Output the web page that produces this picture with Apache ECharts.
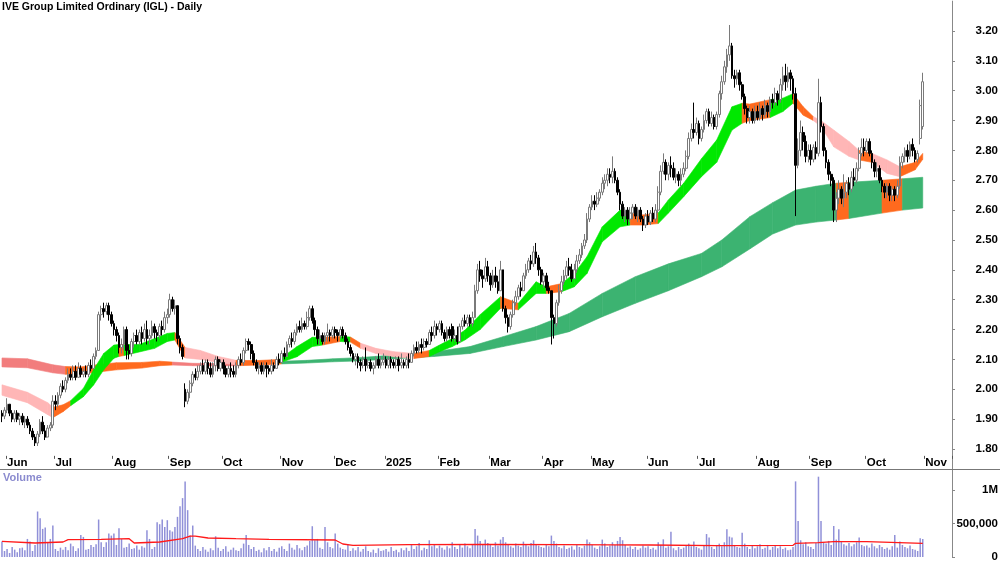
<!DOCTYPE html>
<html>
<head>
<meta charset="utf-8">
<title>IGL - Daily</title>
<script src="https://cdn.jsdelivr.net/npm/echarts@6/dist/echarts.min.js"></script>
<style>
  html, body { margin: 0; padding: 0; background: #fff; }
  #chart { width: 1000px; height: 562px; }
</style>
</head>
<body>
<div id="chart"></div>
<script>
// trading calendar
const firstDay = '2024-05-30';
const holidays = ['2024-06-10', '2024-12-25', '2024-12-26', '2025-01-01', '2025-01-27',
  '2025-04-18', '2025-04-21', '2025-04-25', '2025-06-09'];
const monthNames = ['Jan', 'Feb', 'Mar', 'Apr', 'May', 'Jun', 'Jul', 'Aug', 'Sep', 'Oct', 'Nov', 'Dec'];
const priceTicks = [1.8, 1.9, 2.0, 2.1, 2.2, 2.3, 2.4, 2.5, 2.6, 2.7, 2.8, 2.9, 3.0, 3.1, 3.2];
const volumeTicks = [0, 500, 1000];

// daily bars: [open, close, low, high]
const candles = [
  // May/Jun 2024
  [1.92,1.91,1.89,1.93],[1.91,1.93,1.90,1.94],[1.93,1.95,1.92,1.97],[1.95,1.92,1.91,1.95],[1.92,1.90,1.89,1.93],
  [1.90,1.92,1.89,1.93],[1.92,1.90,1.89,1.93],[1.90,1.91,1.88,1.92],[1.91,1.89,1.88,1.92],[1.89,1.90,1.87,1.91],
  [1.90,1.88,1.87,1.91],[1.88,1.86,1.85,1.89],[1.86,1.84,1.83,1.87],[1.84,1.82,1.81,1.85],[1.82,1.85,1.81,1.86],
  [1.85,1.89,1.84,1.90],[1.89,1.86,1.85,1.91],[1.86,1.84,1.83,1.88],[1.84,1.87,1.84,1.88],[1.87,1.88,1.86,1.89],
  [1.88,1.96,1.87,1.98],
  // Jul
  [1.96,1.95,1.93,1.98],[1.95,1.98,1.94,1.99],[1.98,2.01,1.97,2.02],[2.01,2.00,1.99,2.03],[2.00,2.03,1.99,2.04],
  [2.03,2.05,2.02,2.07],[2.05,2.04,2.03,2.07],[2.04,2.06,2.03,2.08],[2.06,2.04,2.03,2.08],[2.04,2.07,2.04,2.09],
  [2.07,2.05,2.04,2.08],[2.05,2.06,2.04,2.07],[2.06,2.05,2.04,2.08],[2.05,2.08,2.04,2.09],[2.08,2.07,2.06,2.10],
  [2.07,2.11,2.07,2.12],[2.11,2.13,2.10,2.14],[2.13,2.25,2.13,2.26],[2.25,2.27,2.23,2.28],[2.27,2.26,2.24,2.29],
  [2.26,2.28,2.25,2.29],[2.28,2.25,2.23,2.29],[2.25,2.22,2.21,2.26],
  // Aug
  [2.22,2.20,2.18,2.23],[2.20,2.18,2.16,2.21],[2.18,2.14,2.12,2.19],[2.14,2.15,2.12,2.17],[2.15,2.20,2.13,2.21],
  [2.20,2.13,2.10,2.21],[2.13,2.12,2.10,2.15],[2.12,2.16,2.11,2.17],[2.16,2.18,2.14,2.19],[2.18,2.16,2.15,2.20],
  [2.16,2.19,2.15,2.20],[2.19,2.17,2.15,2.21],[2.17,2.20,2.16,2.22],[2.20,2.17,2.15,2.23],[2.17,2.18,2.15,2.20],
  [2.18,2.21,2.17,2.23],[2.21,2.19,2.17,2.22],[2.19,2.18,2.16,2.20],[2.18,2.21,2.17,2.22],[2.21,2.20,2.18,2.23],
  [2.20,2.24,2.19,2.26],[2.24,2.25,2.22,2.27],
  // Sep
  [2.25,2.30,2.24,2.32],[2.30,2.27,2.26,2.31],[2.27,2.28,2.25,2.30],[2.28,2.17,2.15,2.28],[2.17,2.14,2.12,2.18],
  [2.14,2.11,2.10,2.15],[2.00,1.96,1.94,2.02],[1.96,1.99,1.95,2.00],[1.99,2.02,1.97,2.03],[2.02,2.05,2.01,2.06],
  [2.05,2.04,2.03,2.07],[2.04,2.06,2.03,2.08],[2.06,2.08,2.05,2.09],[2.08,2.06,2.05,2.10],[2.06,2.09,2.05,2.10],
  [2.09,2.07,2.05,2.10],[2.07,2.05,2.04,2.09],[2.05,2.08,2.04,2.09],[2.08,2.10,2.06,2.11],[2.10,2.07,2.06,2.11],
  [2.07,2.09,2.06,2.10],
  // Oct
  [2.09,2.07,2.05,2.10],[2.07,2.05,2.04,2.08],[2.05,2.07,2.04,2.08],[2.07,2.06,2.04,2.09],[2.06,2.05,2.04,2.08],
  [2.05,2.08,2.04,2.09],[2.08,2.10,2.07,2.11],[2.10,2.09,2.08,2.12],[2.09,2.13,2.08,2.14],[2.13,2.16,2.12,2.17],
  [2.16,2.15,2.13,2.17],[2.15,2.12,2.10,2.16],[2.12,2.09,2.08,2.13],[2.09,2.07,2.06,2.10],[2.07,2.08,2.05,2.09],
  [2.08,2.06,2.05,2.09],[2.06,2.08,2.05,2.09],[2.08,2.07,2.04,2.09],[2.07,2.06,2.05,2.08],[2.06,2.08,2.05,2.10],
  [2.08,2.07,2.06,2.09],[2.07,2.10,2.07,2.11],[2.10,2.09,2.08,2.12],
  // Nov
  [2.09,2.12,2.09,2.13],[2.12,2.11,2.10,2.14],[2.11,2.15,2.11,2.16],[2.15,2.17,2.14,2.18],[2.17,2.16,2.14,2.19],
  [2.16,2.19,2.15,2.20],[2.19,2.21,2.18,2.22],[2.21,2.20,2.19,2.23],[2.20,2.22,2.19,2.24],[2.22,2.21,2.20,2.23],
  [2.21,2.24,2.20,2.26],[2.24,2.27,2.23,2.28],[2.27,2.23,2.22,2.28],[2.23,2.20,2.18,2.24],[2.20,2.17,2.15,2.21],
  [2.17,2.18,2.15,2.20],[2.18,2.16,2.15,2.19],[2.16,2.18,2.15,2.19],[2.18,2.19,2.16,2.22],[2.19,2.18,2.16,2.20],
  [2.18,2.20,2.17,2.21],
  // Dec
  [2.20,2.19,2.17,2.21],[2.19,2.18,2.16,2.20],[2.18,2.20,2.17,2.21],[2.20,2.18,2.17,2.21],[2.18,2.16,2.15,2.19],
  [2.16,2.14,2.13,2.17],[2.14,2.12,2.11,2.15],[2.12,2.10,2.09,2.13],[2.10,2.11,2.08,2.12],[2.11,2.09,2.07,2.12],
  [2.09,2.08,2.06,2.10],[2.08,2.10,2.07,2.11],[2.10,2.08,2.06,2.14],[2.08,2.09,2.07,2.10],[2.09,2.07,2.06,2.10],
  [2.07,2.08,2.05,2.09],[2.08,2.10,2.07,2.11],[2.10,2.08,2.07,2.12],[2.08,2.09,2.07,2.11],[2.09,2.10,2.08,2.12],
  // Jan 2025
  [2.10,2.08,2.07,2.11],[2.08,2.10,2.07,2.11],[2.10,2.09,2.07,2.11],[2.09,2.08,2.07,2.10],[2.08,2.10,2.07,2.11],
  [2.10,2.08,2.06,2.11],[2.08,2.09,2.07,2.12],[2.09,2.08,2.07,2.10],[2.08,2.10,2.07,2.11],[2.10,2.09,2.07,2.12],
  [2.09,2.12,2.09,2.13],[2.12,2.14,2.11,2.15],[2.14,2.13,2.12,2.16],[2.13,2.15,2.12,2.16],[2.15,2.14,2.12,2.17],
  [2.14,2.16,2.13,2.17],[2.16,2.15,2.14,2.17],[2.15,2.19,2.15,2.20],[2.19,2.18,2.16,2.21],[2.18,2.21,2.17,2.23],
  [2.21,2.20,2.18,2.22],
  // Feb
  [2.20,2.22,2.19,2.23],[2.22,2.19,2.18,2.23],[2.19,2.17,2.16,2.20],[2.17,2.20,2.16,2.21],[2.20,2.18,2.17,2.21],
  [2.21,2.17,2.16,2.22],[2.17,2.18,2.16,2.20],[2.18,2.16,2.15,2.21],[2.16,2.21,2.16,2.22],[2.21,2.23,2.20,2.24],
  [2.23,2.22,2.21,2.25],[2.22,2.24,2.21,2.25],[2.24,2.22,2.21,2.25],[2.22,2.24,2.21,2.26],[2.24,2.33,2.24,2.35],
  [2.33,2.40,2.32,2.42],[2.40,2.38,2.36,2.43],[2.38,2.37,2.34,2.40],[2.37,2.41,2.36,2.44],[2.41,2.38,2.36,2.43],
  // Mar
  [2.38,2.35,2.33,2.39],[2.35,2.38,2.34,2.40],[2.38,2.36,2.34,2.41],[2.36,2.33,2.32,2.38],[2.33,2.40,2.33,2.43],
  [2.40,2.27,2.26,2.40],[2.27,2.24,2.22,2.28],[2.24,2.21,2.19,2.25],[2.21,2.25,2.20,2.26],[2.25,2.29,2.24,2.30],
  [2.29,2.31,2.28,2.33],[2.31,2.34,2.30,2.35],[2.34,2.33,2.31,2.36],[2.33,2.38,2.33,2.39],[2.38,2.40,2.37,2.42],
  [2.40,2.43,2.39,2.44],[2.43,2.42,2.40,2.45],[2.42,2.46,2.41,2.48],[2.46,2.44,2.42,2.49],[2.44,2.40,2.38,2.45],
  [2.40,2.36,2.35,2.41],
  // Apr
  [2.36,2.38,2.34,2.39],[2.38,2.34,2.33,2.39],[2.34,2.33,2.32,2.36],[2.33,2.24,2.15,2.33],[2.24,2.22,2.17,2.25],
  [2.22,2.29,2.21,2.30],[2.29,2.33,2.28,2.35],[2.33,2.36,2.32,2.38],[2.36,2.38,2.35,2.40],[2.38,2.41,2.37,2.43],
  [2.41,2.40,2.38,2.44],[2.40,2.37,2.36,2.42],[2.37,2.40,2.37,2.42],[2.40,2.43,2.39,2.45],[2.43,2.45,2.42,2.47],
  [2.45,2.48,2.44,2.49],[2.48,2.50,2.47,2.52],[2.50,2.57,2.49,2.59],[2.57,2.61,2.56,2.62],
  // May
  [2.61,2.63,2.60,2.65],[2.63,2.62,2.60,2.65],[2.62,2.64,2.61,2.66],[2.64,2.66,2.63,2.67],[2.66,2.69,2.65,2.71],
  [2.69,2.70,2.67,2.72],[2.70,2.72,2.68,2.74],[2.72,2.71,2.69,2.74],[2.71,2.73,2.69,2.78],[2.73,2.70,2.69,2.74],
  [2.70,2.66,2.65,2.71],[2.66,2.62,2.60,2.67],[2.62,2.58,2.57,2.63],[2.58,2.60,2.56,2.61],[2.60,2.57,2.55,2.61],
  [2.57,2.59,2.56,2.61],[2.59,2.61,2.57,2.62],[2.61,2.58,2.57,2.62],[2.58,2.60,2.56,2.61],[2.60,2.57,2.56,2.61],
  [2.57,2.55,2.53,2.58],[2.55,2.58,2.54,2.59],
  // Jun
  [2.58,2.56,2.55,2.60],[2.56,2.59,2.55,2.60],[2.59,2.57,2.56,2.61],[2.57,2.60,2.56,2.62],[2.60,2.66,2.59,2.68],
  [2.66,2.73,2.65,2.75],[2.73,2.76,2.72,2.79],[2.76,2.72,2.70,2.77],[2.72,2.75,2.70,2.76],[2.75,2.74,2.71,2.78],
  [2.74,2.71,2.70,2.76],[2.71,2.72,2.69,2.74],[2.72,2.70,2.68,2.73],[2.70,2.72,2.68,2.74],[2.72,2.74,2.71,2.76],
  [2.74,2.78,2.73,2.80],[2.78,2.84,2.77,2.86],[2.84,2.87,2.83,2.89],[2.87,2.86,2.84,2.96],[2.86,2.89,2.85,2.91],
  // Jul
  [2.89,2.84,2.82,2.90],[2.84,2.87,2.83,2.88],[2.87,2.90,2.86,2.92],[2.90,2.93,2.89,2.94],[2.93,2.89,2.88,2.94],
  [2.89,2.91,2.88,2.93],[2.91,2.88,2.87,2.92],[2.88,2.92,2.87,2.93],[2.92,2.99,2.91,3.00],[2.99,3.03,2.97,3.05],
  [3.03,3.08,3.02,3.10],[3.08,3.12,3.06,3.14],[3.12,3.15,3.10,3.22],[3.15,3.05,3.04,3.16],[3.05,3.04,3.01,3.07],
  [3.04,3.06,3.02,3.07],[3.06,3.02,3.00,3.07],[3.02,2.98,2.97,3.03],[2.98,2.94,2.92,2.99],[2.94,2.91,2.89,2.95],
  [2.91,2.93,2.89,2.95],[2.93,2.90,2.89,2.94],[2.90,2.93,2.89,2.95],
  // Aug
  [2.93,2.91,2.90,2.95],[2.91,2.94,2.90,2.96],[2.94,2.92,2.90,2.95],[2.92,2.95,2.91,2.97],[2.95,2.93,2.91,2.96],
  [2.93,2.97,2.92,2.98],[2.97,2.96,2.94,2.99],[2.96,2.99,2.95,3.01],[2.99,2.97,2.95,3.00],[2.97,3.02,2.96,3.04],
  [3.02,3.05,3.00,3.08],[3.05,3.03,3.00,3.09],[3.03,3.06,3.01,3.08],[3.06,3.04,3.00,3.07],[3.04,2.99,2.97,3.05],
  [2.99,2.75,2.58,3.01],[2.75,2.80,2.74,2.84],[2.80,2.86,2.78,2.90],[2.86,2.83,2.80,2.88],[2.83,2.78,2.76,2.85],
  [2.78,2.80,2.76,2.82],
  // Sep
  [2.80,2.77,2.75,2.82],[2.77,2.81,2.76,2.82],[2.81,2.79,2.77,2.83],[2.79,2.96,2.78,3.04],[2.96,2.88,2.86,2.98],
  [2.88,2.80,2.78,2.89],[2.80,2.76,2.74,2.81],[2.76,2.72,2.70,2.77],[2.72,2.70,2.68,2.73],[2.70,2.60,2.56,2.71],
  [2.60,2.64,2.56,2.66],[2.64,2.67,2.62,2.70],[2.67,2.64,2.62,2.68],[2.64,2.66,2.61,2.72],[2.66,2.69,2.64,2.70],
  [2.69,2.67,2.65,2.71],[2.67,2.71,2.66,2.73],[2.71,2.70,2.68,2.74],[2.70,2.74,2.69,2.76],[2.74,2.79,2.73,2.81],
  [2.79,2.81,2.78,2.84],[2.81,2.80,2.78,2.84],
  // Oct
  [2.80,2.83,2.79,2.84],[2.83,2.79,2.78,2.84],[2.79,2.76,2.74,2.80],[2.76,2.73,2.71,2.77],[2.73,2.74,2.71,2.76],
  [2.74,2.70,2.69,2.75],[2.70,2.68,2.66,2.71],[2.68,2.66,2.64,2.69],[2.66,2.68,2.64,2.69],[2.68,2.65,2.63,2.69],
  [2.65,2.67,2.63,2.68],[2.67,2.65,2.63,2.68],[2.65,2.68,2.64,2.70],[2.68,2.76,2.67,2.78],[2.76,2.78,2.74,2.79],
  [2.78,2.80,2.76,2.81],[2.80,2.78,2.76,2.82],[2.78,2.82,2.77,2.83],[2.82,2.80,2.78,2.84],[2.80,2.77,2.76,2.81],
  [2.77,2.79,2.76,2.80],[2.84,2.95,2.82,2.97],[2.88,3.03,2.87,3.06]
];

// daily volume, thousands of shares
const volumeK = [
  230,90,120,60,150,110,70,130,140,100,270,230,90,180,680,580,420,440,220,270,470,
  120,90,140,110,150,100,200,160,90,130,330,300,110,120,180,150,190,560,220,150,220,350,320,
  350,180,430,270,140,150,200,120,130,170,110,160,140,400,270,120,150,520,490,560,450,550,
  400,380,450,600,760,880,1130,700,320,470,170,120,90,150,110,80,130,100,310,140,90,
  120,160,80,110,140,100,90,130,200,330,180,120,150,90,110,70,130,100,150,90,120,80,140,
  160,120,90,200,140,110,180,130,100,150,170,240,460,250,270,140,120,450,220,150,130,
  350,200,140,120,110,180,90,130,100,150,80,120,160,90,70,110,60,130,90,100,
  120,80,150,90,110,70,130,100,140,90,180,120,160,210,100,140,120,250,160,190,130,
  170,140,110,160,130,220,150,120,180,140,200,160,130,190,420,320,240,180,260,210,
  190,150,220,170,260,300,220,180,160,140,200,170,150,230,180,160,210,250,190,170,150,
  140,180,160,320,240,200,150,130,170,120,140,160,110,180,150,130,170,260,220,
  180,140,120,160,260,200,150,170,220,180,240,300,250,180,140,160,120,150,110,130,170,140,
  160,120,140,110,220,180,264,140,160,378,130,100,150,120,140,180,200,160,230,150,
  130,110,170,343,293,150,120,180,200,160,220,413,305,293,180,150,140,363,200,150,120,170,130,
  160,190,120,140,180,110,150,170,130,160,120,140,100,110,150,1130,537,250,190,220,160,
  150,120,210,1200,537,220,200,240,180,463,260,413,230,190,170,210,160,190,220,293,180,160,
  170,140,200,160,130,180,150,120,140,110,160,328,140,230,180,150,130,170,120,110,90,279,269
];

// volume average line: [bar index, thousands]
const volumeAvg = [
  [0,234],[13,209],[24,224],[26,259],[39,264],[50,274],[52,209],[62,224],[71,274],[74,313],
  [76,313],[81,284],[92,274],[105,264],[131,254],[134,194],[138,174],[160,185],[190,190],[220,185],
  [240,180],[255,179],[281,169],[311,174],[312,204],[321,214],[327,229],[340,229],[362,204]
];

// short-term band: [bar index, lower, upper, trend]  u = up, n = neutral, d = down
const shortBand = [
  [0,1.98,2.015,'d'],[10,1.955,1.99,'d'],[18,1.915,1.955,'d'],[20,1.905,1.94,'n'],[24,1.925,1.948,'n'],
  [27,1.945,1.962,'u'],[32,1.975,2.003,'u'],[36,2.014,2.065,'u'],[40,2.065,2.12,'u'],[44,2.104,2.148,'u'],
  [46,2.11,2.15,'n'],[48,2.113,2.15,'u'],[54,2.125,2.15,'u'],[60,2.137,2.17,'u'],[65,2.16,2.187,'u'],
  [68,2.165,2.19,'n'],[72,2.105,2.14,'d'],[78,2.10,2.13,'d'],[85,2.09,2.11,'d'],[92,2.082,2.097,'n'],
  [100,2.082,2.096,'n'],[109,2.088,2.10,'u'],[116,2.109,2.143,'u'],[122,2.143,2.174,'u'],[126,2.148,2.174,'n'],
  [133,2.16,2.177,'u'],[137,2.158,2.175,'n'],[141,2.137,2.154,'d'],[147,2.12,2.137,'d'],[154,2.109,2.126,'d'],
  [162,2.103,2.12,'n'],[168,2.11,2.13,'u'],[172,2.126,2.148,'u'],[177,2.143,2.17,'u'],[182,2.165,2.198,'u'],
  [188,2.20,2.25,'u'],[196,2.271,2.31,'n'],[203,2.266,2.288,'u'],[210,2.321,2.36,'u'],[214,2.321,2.343,'n'],
  [220,2.327,2.354,'u'],[225,2.343,2.388,'u'],[230,2.388,2.444,'u'],[236,2.494,2.544,'u'],[243,2.544,2.60,'u'],
  [247,2.55,2.59,'n'],[252,2.55,2.584,'n'],[258,2.555,2.59,'u'],[262,2.59,2.634,'u'],[268,2.645,2.69,'u'],
  [275,2.712,2.772,'u'],[281,2.76,2.835,'u'],[287,2.868,2.946,'u'],[291,2.891,2.958,'n'],[294,2.90,2.955,'n'],
  [302,2.91,2.97,'u'],[307,2.93,2.975,'u'],[311,2.958,2.99,'n'],[315,2.918,2.946,'n'],[319,2.90,2.913,'d'],
  [322,2.88,2.90,'d'],[327,2.812,2.868,'d'],[333,2.78,2.83,'d'],[337,2.768,2.80,'n'],[342,2.76,2.79,'d'],
  [348,2.723,2.768,'d'],[353,2.712,2.745,'n'],[359,2.735,2.76,'n'],[362,2.77,2.79,'n']
];

// long-term band: [bar index, lower, upper, trend]
const longBand = [
  [0,2.075,2.105,'d'],[10,2.072,2.102,'d'],[20,2.055,2.082,'d'],[25,2.05,2.076,'n'],[31,2.05,2.075,'n'],
  [38,2.058,2.083,'n'],[45,2.065,2.089,'n'],[55,2.071,2.09,'n'],[62,2.079,2.094,'n'],[67,2.081,2.091,'d'],
  [75,2.079,2.087,'d'],[85,2.078,2.086,'d'],[93,2.079,2.089,'n'],[103,2.082,2.092,'n'],[110,2.085,2.094,'u'],
  [120,2.088,2.097,'u'],[130,2.092,2.102,'u'],[140,2.095,2.106,'u'],[150,2.10,2.112,'u'],[160,2.105,2.118,'u'],
  [170,2.11,2.126,'u'],[184,2.12,2.143,'u'],[197,2.143,2.176,'u'],[210,2.165,2.21,'u'],[223,2.193,2.254,'u'],
  [236,2.243,2.321,'u'],[249,2.288,2.377,'u'],[262,2.33,2.42,'u'],[275,2.377,2.455,'u'],[283,2.41,2.50,'u'],
  [294,2.47,2.578,'u'],[303,2.52,2.625,'u'],[312,2.55,2.667,'u'],[320,2.56,2.68,'u'],[328,2.567,2.69,'n'],
  [333,2.572,2.693,'u'],[346,2.59,2.70,'n'],[354,2.60,2.705,'u'],[362,2.607,2.71,'u']
];

const shortColors = { u: '#00e800', n: '#ff6a1e', d: '#ffb6b6' };
const longColors = { u: '#3cb371', n: '#ff6a1e', d: '#f27d7d' };
const fontFamily = "'Liberation Sans', Arial, sans-serif";

function buildDays(start, n) {
  const out = [];
  const d = new Date(start + 'T00:00:00Z');
  while (out.length < n) {
    const s = d.toISOString().slice(0, 10);
    const wd = d.getUTCDay();
    if (wd !== 0 && wd !== 6 && holidays.indexOf(s) < 0) out.push(s);
    d.setUTCDate(d.getUTCDate() + 1);
  }
  return out;
}

// a few empty sessions on the right, like the original
const categories = buildDays(firstDay, candles.length + 11);

function isMonthStart(idx) {
  return idx > 0 && categories[idx].slice(0, 7) !== categories[idx - 1].slice(0, 7);
}

function bandSeries(band, colors) {
  return {
    type: 'custom',
    xAxisIndex: 0,
    yAxisIndex: 0,
    silent: true,
    z: 1,
    encode: { x: 0, y: [1, 2] },
    data: band.map(b => [b[0], b[1], b[2]]),
    renderItem: (params, api) => {
      const k = params.dataIndex;
      if (k >= band.length - 1) return null;
      const a = band[k], b = band[k + 1];
      const col = colors[a[3]];
      return {
        type: 'polygon',
        shape: {
          points: [
            api.coord([a[0], a[2]]), api.coord([b[0], b[2]]),
            api.coord([b[0], b[1]]), api.coord([a[0], a[1]])
          ]
        },
        style: { fill: col, stroke: col, lineWidth: 0.6 }
      };
    }
  };
}

const chart = echarts.init(document.getElementById('chart'), null, { renderer: 'canvas' });

const option = {
  animation: false,
  backgroundColor: '#ffffff',
  textStyle: { fontFamily: fontFamily },
  title: [
    {
      text: 'IVE Group Limited Ordinary (IGL) - Daily',
      left: 2, top: 2, padding: 0,
      textStyle: { fontSize: 10.5, fontWeight: 'bold', color: '#000', fontFamily: fontFamily }
    },
    {
      text: 'Volume',
      left: 3, top: 472, padding: 0,
      textStyle: { fontSize: 11, fontWeight: 'bold', color: '#8b8bcf', fontFamily: fontFamily }
    }
  ],
  graphic: [
    {
      type: 'line', silent: true, z: 10,
      shape: { x1: 0, y1: 469.5, x2: 1000, y2: 469.5 },
      style: { stroke: '#777', lineWidth: 1 }
    }
  ],
  grid: [
    { left: 0.7, right: 48, top: 1.1, bottom: 83.14, outerBoundsMode: 'none' },
    { left: 0.7, right: 48, top: 470, bottom: 5, outerBoundsMode: 'none' }
  ],
  xAxis: [
    {
      type: 'category', gridIndex: 0, data: categories, boundaryGap: true,
      offset: -23,
      axisLine: { show: false },
      axisTick: { show: true, length: 3, interval: (i) => isMonthStart(i), lineStyle: { color: '#555' } },
      axisLabel: {
        interval: (i) => isMonthStart(i),
        formatter: (v) => {
          const m = +v.slice(5, 7);
          return m === 1 ? v.slice(0, 4) : monthNames[m - 1];
        },
        align: 'left', margin: 1,
        fontSize: 11.5, fontWeight: 'bold', color: '#000', fontFamily: fontFamily
      },
      splitLine: { show: false }
    },
    {
      type: 'category', gridIndex: 1, data: categories, boundaryGap: true,
      axisLine: { show: false }, axisTick: { show: false }, axisLabel: { show: false },
      splitLine: { show: false }
    }
  ],
  yAxis: [
    {
      type: 'value', gridIndex: 0, position: 'right',
      min: 1.7, max: 3.3, interval: 0.1,
      axisLine: { show: true, lineStyle: { color: '#888', width: 1 } },
      axisTick: { show: true, length: 3, customValues: priceTicks, lineStyle: { color: '#888' } },
      axisLabel: {
        customValues: priceTicks,
        formatter: (v) => (v < 1.75 || v > 3.25) ? '' : v.toFixed(2),
        align: 'right', margin: 46,
        fontSize: 11.5, fontWeight: 'bold', color: '#000', fontFamily: fontFamily
      },
      splitLine: { show: false }
    },
    {
      type: 'value', gridIndex: 1, position: 'right',
      min: 0, max: 1300, interval: 500,
      axisLine: { show: true, lineStyle: { color: '#888', width: 1 } },
      axisTick: { show: true, length: 3, customValues: volumeTicks, lineStyle: { color: '#888' } },
      axisLabel: {
        customValues: volumeTicks,
        formatter: (v) => v === 1000 ? '1M' : v === 500 ? '500,000' : v === 0 ? '0' : '',
        align: 'right', margin: 46,
        fontSize: 11.5, fontWeight: 'bold', color: '#000', fontFamily: fontFamily
      },
      splitLine: { show: false }
    }
  ],
  series: [
    bandSeries(longBand, longColors),
    bandSeries(shortBand, shortColors),
    {
      type: 'candlestick', xAxisIndex: 0, yAxisIndex: 0, z: 3,
      data: candles,
      barWidth: 2.2,
      itemStyle: {
        color: '#ffffff', color0: '#000000',
        borderColor: '#7a7a7a', borderColor0: '#000000', borderWidth: 1
      }
    },
    {
      type: 'bar', xAxisIndex: 1, yAxisIndex: 1,
      data: volumeK,
      barWidth: 1.5,
      itemStyle: { color: '#9090d8' }
    },
    {
      type: 'line', xAxisIndex: 1, yAxisIndex: 1, z: 4,
      data: volumeAvg,
      symbol: 'none',
      lineStyle: { color: '#ff1a1a', width: 1.3 }
    }
  ]
};

chart.setOption(option);
</script>
</body>
</html>
